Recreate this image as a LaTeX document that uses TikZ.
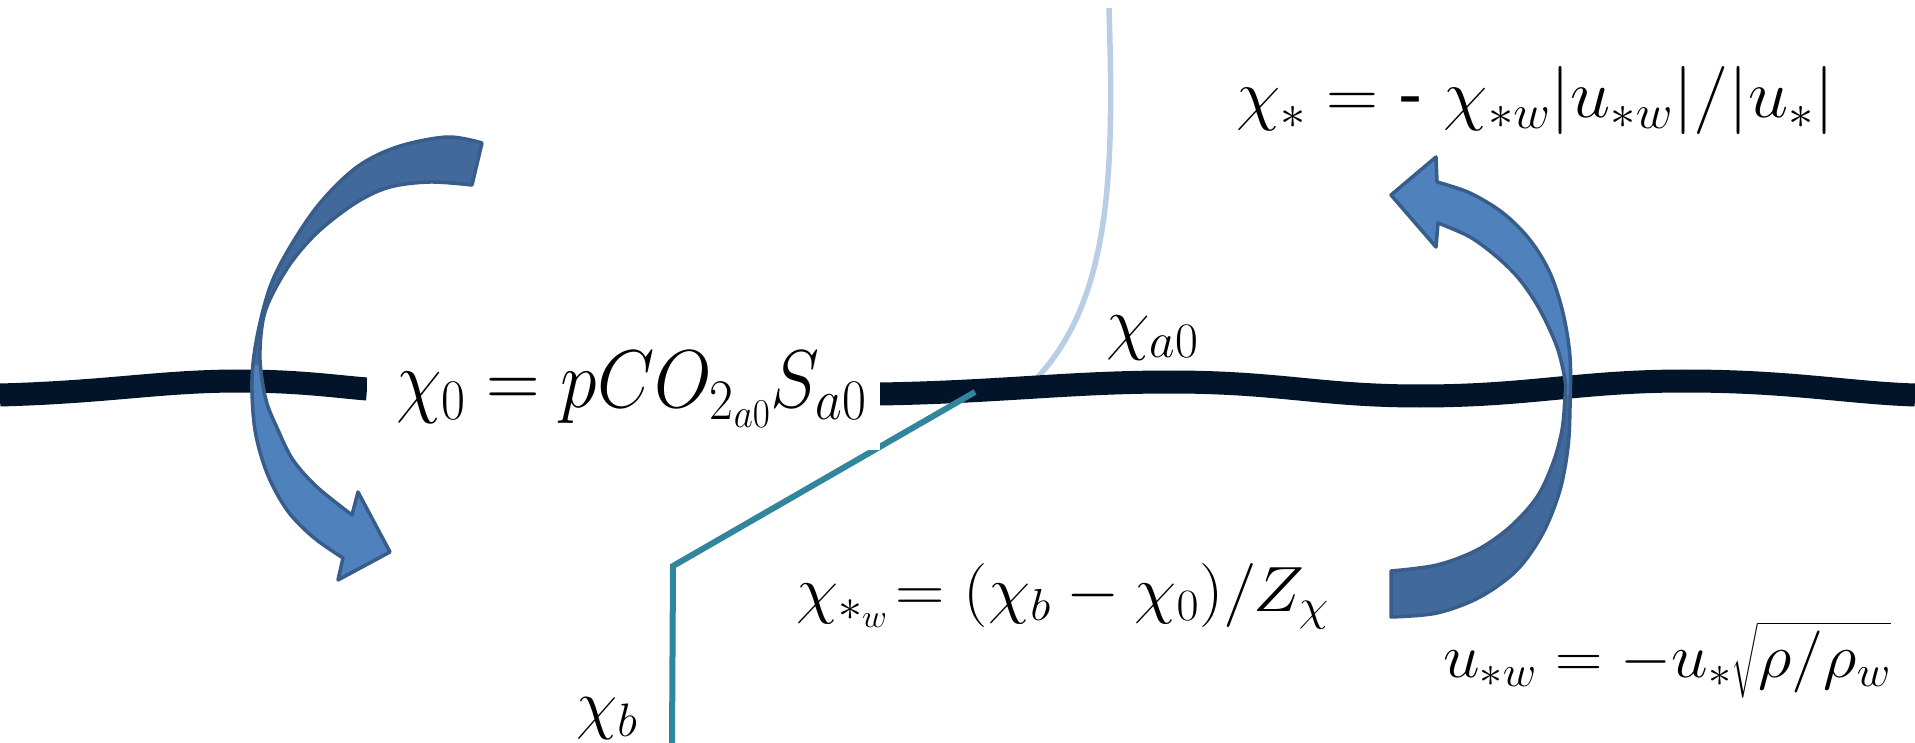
\RequirePackage{fix-cm}
\documentclass[tikz,border=0pt]{standalone}
\usepackage{exscale}
\usepackage[no-math]{fontspec}
\newfontfamily\arialf{Liberation Sans}
\definecolor{wavec}{HTML}{011429}
\definecolor{lightcurvec}{HTML}{B9CDE5}
\definecolor{tealc}{HTML}{31859C}
\definecolor{arrlight}{HTML}{4F81BD}
\definecolor{arrdark}{HTML}{41699B}
\definecolor{arrborder}{HTML}{385D8A}
\tikzset{
  wave/.style={line width=23pt, color=wavec},
  lightcurve/.style={line width=5.5pt, color=lightcurvec},
  tealline/.style={line width=6pt, color=tealc},
  arrowline/.style={draw=arrborder, line width=3.5pt, line join=round},
  eq/.style={inner sep=0pt, anchor=base west},
}
\begin{document}
\begin{tikzpicture}[x=1pt,y=-1pt]
\path[use as bounding box, fill=white] (0,0) rectangle (1915,743);

% light blue curve
\coordinate (lbTop) at (1109,8);
\coordinate (lbEnd) at (1035,380);
\draw[lightcurve] (lbTop) .. controls (1114,170) and (1112,300) .. (lbEnd);

% water surface
\draw[wave] (0,395) .. controls (110,392) and (160,381) .. (240,381)
  .. controls (300,381) and (340,387) .. (367,389);
\draw[wave] (880,394) .. controls (1000,392) and (1070,382) .. (1170,382)
  .. controls (1280,382) and (1320,396) .. (1420,396)
  .. controls (1530,396) and (1580,381) .. (1685,381)
  .. controls (1790,381) and (1850,393) .. (1915,395);

% teal profile
\coordinate (tA) at (975,392);
\coordinate (tB) at (673,566);
\coordinate (tC) at (672,745);
\draw[tealline] (tA) -- (tB) -- (tC);

% formula chi_0 with white background
\node[fill=white, inner sep=0pt, minimum width=513pt, minimum height=120pt, anchor=north west] (box0) at (367,330) {};
\node[eq] (chi0) at (396,407) {\scalebox{0.905}[1]{\fontsize{82}{82}\selectfont $\chi_0 = pCO_{2_{a0}}S_{a0}$}};

% other labels
\node[eq] (chia0) at (1106,347) {\fontsize{71}{71}\selectfont $\chi_{a0}$};
\node[eq] (chistar) at (1236,118) {\scalebox{1.06}[1]{\fontsize{68}{68}\selectfont $\chi_* = \mbox{\arialf -}\ \chi_{*w}|u_{*w}|/|u_*|$}};
\begin{scope}
\clip (700,530) rectangle (1400,632);
\node[eq] (chiw) at (796,611) {\scalebox{1.07}[1]{\fontsize{64}{64}\selectfont $\chi_{*_w}\!= (\chi_b-\chi_0)/Z_\chi$}};
\end{scope}
\node[eq] (ustar) at (1443,677) {\scalebox{1.06}[1]{\fontsize{62}{62}\selectfont $u_{*w} = -u_*\sqrt{\rho/\rho_w}$}};
\node[eq] (chib) at (576,726) {\fontsize{67}{67}\selectfont $\chi_b$};

% left curved arrow
\path[save path=\LApath] plot[smooth, tension=0.55] coordinates {(482,143) (447,137) (397,147) (357,167) (320,203) (290,247) (270,287) (257,337) (252,380) (255,430) (267,473) (287,510) (313,537) (343,558)}
  -- (338,580) -- (390,552) -- (358,492) -- (352,515)
  -- plot[smooth, tension=0.55] coordinates {(352,515) (317,487) (293,460) (278,430) (266,400) (260,360) (263,320) (273,293) (293,260) (320,230) (357,202) (390,187) (430,182) (472,185)}
  -- cycle;
\fill[arrlight, use path=\LApath];
\begin{scope}
\clip (0,0) rectangle (600,365);
\fill[arrdark, use path=\LApath];
\end{scope}
\path[arrowline, use path=\LApath];

% right curved arrow
\path[save path=\RApath] (1391,195) -- (1436,157) -- (1437,182)
  -- plot[smooth, tension=0.55] coordinates {(1437,182) (1470,193) (1503,213) (1530,240) (1550,273) (1563,313) (1570,357) (1570,407) (1568,447) (1560,490) (1543,533) (1517,570) (1480,597) (1437,613) (1391,617)}
  -- (1391,571)
  -- plot[smooth, tension=0.55] coordinates {(1391,571) (1437,565) (1477,550) (1510,527) (1537,497) (1553,463) (1562,430) (1565,397) (1565,380) (1557,347) (1540,310) (1520,280) (1497,257) (1470,237) (1438,223)}
  -- (1436,247) -- cycle;
\fill[arrlight, use path=\RApath];
\begin{scope}
\clip (1300,395) rectangle (1700,700);
\fill[arrdark, use path=\RApath];
\end{scope}
\path[arrowline, use path=\RApath];
\end{tikzpicture}
\end{document}
